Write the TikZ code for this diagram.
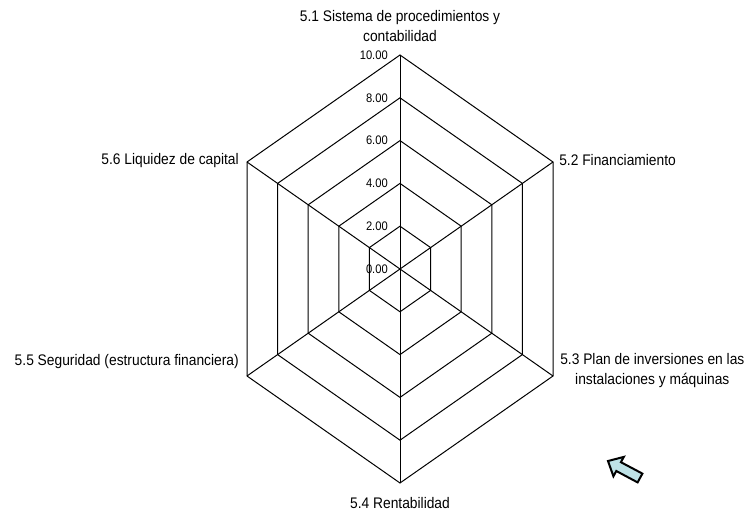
\documentclass[tikz,border=0pt]{standalone}
\usepackage{fontspec}
\setmainfont[FakeStretch=0.9]{Liberation Sans}
\usetikzlibrary{calc}
\definecolor{arrowblue}{RGB}{190,226,230}
\begin{document}
\begin{tikzpicture}[x=0.75pt,y=-0.75pt,
  grid/.style={draw=black,line width=0.75pt,line join=miter},
  cat/.style={font=\fontsize{11.5}{15}\selectfont,inner sep=0pt,align=center},
  tick/.style={font=\fontsize{9.3}{10}\selectfont,inner sep=0pt,anchor=east},
  pointer/.style={draw=black,line width=1.5pt,fill=arrowblue,line join=miter}]
\useasboundingbox (0,0) rectangle (750,516);

% centre and the six axis ends
\coordinate (c)  at (400,269);
\coordinate (v1) at (400,55);
\coordinate (v2) at (553,162);
\coordinate (v3) at (553,376);
\coordinate (v4) at (400,483);
\coordinate (v5) at (247,376);
\coordinate (v6) at (247,162);

% concentric hexagonal rings
\foreach \f in {0.2,0.4,0.6,0.8,1.0}
  \draw[grid] ($(c)!\f!(v1)$) -- ($(c)!\f!(v2)$) -- ($(c)!\f!(v3)$)
              -- ($(c)!\f!(v4)$) -- ($(c)!\f!(v5)$) -- ($(c)!\f!(v6)$) -- cycle;

% spokes
\foreach \i in {1,...,6}
  \draw[grid] (c) -- (v\i);

% scale values along the top axis
\foreach \v/\f/\n in {0.00/0/0,2.00/0.2/2,4.00/0.4/4,6.00/0.6/6,8.00/0.8/8,10.00/1/10}
  \node[tick] (t\n) at ($(c)!\f!(v1)+(-12,0)$) {\v};

% axis captions
\node[cat] (a1) at (400,26) {5.1 Sistema de procedimientos y\\contabilidad};
\node[cat,anchor=west] (a2) at (559,160) {5.2 Financiamiento};
\node[cat,anchor=west] (a3) at (560,371) {5.3 Plan de inversiones en las\\instalaciones y máquinas};
\node[cat] (a4) at (400,503) {5.4 Rentabilidad};
\node[cat,anchor=east] (a5) at (239,362) {5.5 Seguridad (estructura financiera)};
\node[cat,anchor=east] (a6) at (239,161) {5.6 Liquidez de capital};

% block arrow
\draw[pointer] (608,461) -- (623.8,456.9) -- (620.9,462.2) -- (642.4,473.6)
  -- (637.6,482.4) -- (616.3,471) -- (613.4,476.3) -- cycle;
\end{tikzpicture}
\end{document}
